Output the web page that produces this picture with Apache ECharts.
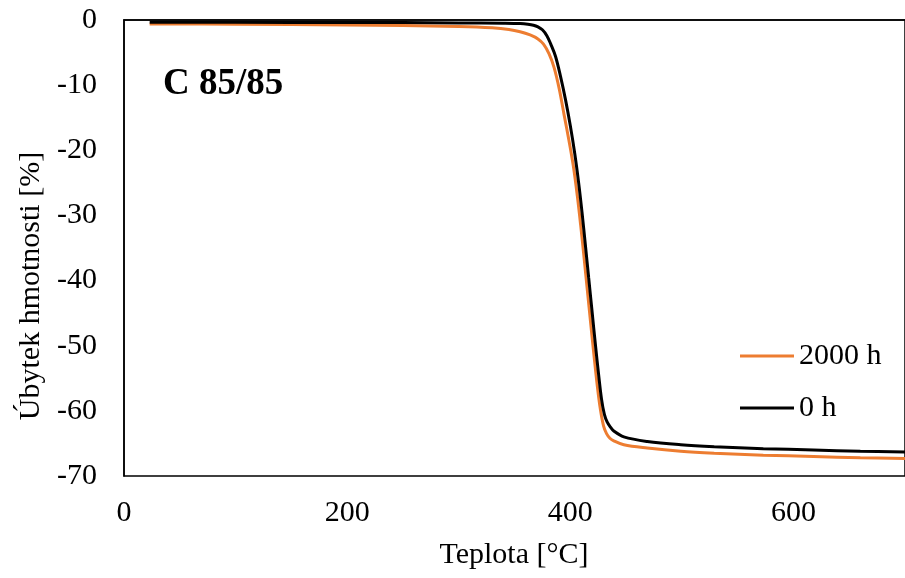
<!DOCTYPE html>
<html>
<head>
<meta charset="utf-8">
<script src="https://cdn.jsdelivr.net/npm/echarts@6/dist/echarts.min.js"></script>
<style>html,body{margin:0;padding:0;background:#fff}#c{width:905px;height:578px}</style>
</head>
<body>
<div id="c"></div>
<script>
const seriesNames = ['2000 h', '0 h'];
const seriesColors = ['#ED7D31', '#000000'];
const xTicks = [0, 200, 400, 600];
const yTicks = [0, -10, -20, -30, -40, -50, -60, -70];

const data2000h = [
  [23,-0.6],[100,-0.65],[200,-0.75],[250,-0.85],[300,-1.0],[330,-1.2],[345,-1.45],[355,-1.8],[364,-2.3],
  [371,-2.9],[376,-3.7],[381,-5.2],[385.5,-7.3],[390,-10.5],[394.5,-14.6],[398.8,-18.5],[402.8,-22.5],[406.3,-27],
  [409.3,-31.5],[412.3,-36.4],[415.3,-41.5],[418.3,-46.6],[421.3,-51.6],[424.3,-56.3],[427,-59.8],[429.8,-62.3],
  [432.5,-63.5],[435.5,-64.2],[439,-64.6],[448,-65.2],[469,-65.7],[499,-66.2],[529,-66.5],[573,-66.8],[618,-67.0],[660,-67.2],[700,-67.3]
];
const data0h = [
  [23,-0.35],[100,-0.35],[200,-0.4],[250,-0.4],[300,-0.45],[340,-0.5],[355,-0.55],[362,-0.65],[367,-0.8],
  [371,-1.05],[375,-1.5],[379,-2.4],[382.5,-3.7],[386.8,-5.6],[391.3,-8.7],[395.8,-12.3],[400,-16.2],[404,-20.5],
  [407.5,-25],[410.5,-29.5],[413.5,-34.5],[416.5,-39.6],[419.5,-44.7],[422.5,-49.8],[425.5,-54.6],[428,-58.2],
  [430.5,-60.5],[433,-61.7],[436,-62.5],[439,-63.1],[448,-64],[469,-64.7],[499,-65.2],[529,-65.5],[573,-65.8],[618,-66.0],[660,-66.2],[700,-66.3]
];
const chartTitle = 'C 85/85';
const xName = 'Teplota [°C]';
const yName = 'Úbytek hmotnosti [%]';

const FONT = '"Liberation Serif", "Times New Roman", serif';
const chart = echarts.init(document.getElementById('c'), null, {renderer: 'canvas'});
chart.setOption({
  animation: false,
  backgroundColor: '#fff',
  title: {
    text: chartTitle, left: 158, top: 61,
    textStyle: {fontFamily: FONT, fontSize: 37, fontWeight: 'bold', color: '#000'}
  },
  grid: {left: 124, top: 20, right: -2, bottom: 102, show: true, borderColor: '#000', borderWidth: 1.5},
  legend: {
    data: seriesNames, orient: 'vertical', left: 735, top: 336,
    icon: 'rect', itemWidth: 54, itemHeight: 3, itemGap: 22,
    textStyle: {fontFamily: FONT, fontSize: 30, color: '#000', lineHeight: 30}
  },
  xAxis: {
    type: 'value', min: 0, max: 700, interval: 200,
    axisLine: {show: true, lineStyle: {color: '#000', width: 1.5}},
    axisTick: {show: false}, splitLine: {show: false},
    axisLabel: {fontFamily: FONT, fontSize: 30, color: '#000', margin: 22, showMaxLabel: false,
      formatter: v => xTicks.includes(v) ? String(v) : ''}
  },
  yAxis: {
    type: 'value', min: -70, max: 0, interval: 10,
    axisLine: {show: true, lineStyle: {color: '#000', width: 1.5}},
    axisTick: {show: false}, splitLine: {show: false},
    axisLabel: {fontFamily: FONT, fontSize: 30, color: '#000', margin: 27,
      formatter: v => yTicks.includes(v) ? String(v) : ''}
  },
  graphic: [
    {type: 'text', x: 514, y: 555, style: {text: xName, font: '30px ' + FONT, fill: '#000', textAlign: 'center', textVerticalAlign: 'middle'}},
    {type: 'text', x: 31, y: 286, rotation: Math.PI / 2, style: {text: yName, font: '30px ' + FONT, fill: '#000', textAlign: 'center', textVerticalAlign: 'middle'}}
  ],
  series: [
    {name: seriesNames[0], type: 'line', data: data2000h, showSymbol: false, smooth: 0.35,
      lineStyle: {color: seriesColors[0], width: 3}, itemStyle: {color: seriesColors[0]}},
    {name: seriesNames[1], type: 'line', data: data0h, showSymbol: false, smooth: 0.35,
      lineStyle: {color: seriesColors[1], width: 3}, itemStyle: {color: seriesColors[1]}}
  ]
});
</script>
</body>
</html>
